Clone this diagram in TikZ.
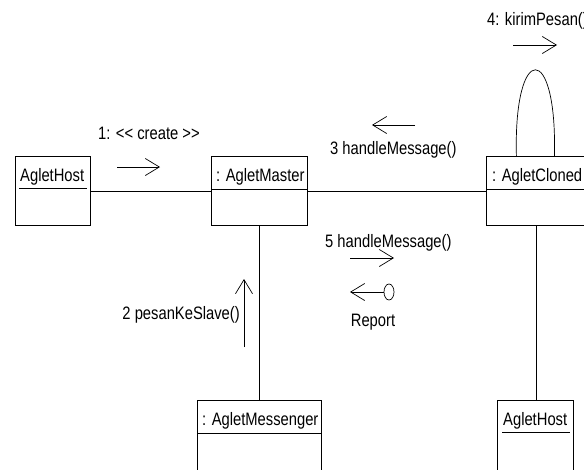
\documentclass[tikz,border=0pt]{standalone}
\usepackage{fontspec}
\setmainfont{Liberation Sans}[FakeStretch=0.82]
\usetikzlibrary{arrows.meta,shapes.geometric}
\begin{document}
\begin{tikzpicture}[x=1pt,y=-1pt,
  box/.style={draw, line width=0.8pt, rectangle, anchor=north west, inner sep=0pt},
  lbl/.style={inner sep=0pt, font=\fontsize{18}{21}\selectfont, anchor=base west},
  conn/.style={line width=0.8pt},
  msg/.style={line width=0.7pt, -{Straight Barb[length=14pt,width=17pt,line width=0.7pt]}}]
\useasboundingbox (0,0) rectangle (584,469);
% boxes
\node[box, minimum width=75pt, minimum height=69pt] (host1) at (15,156) {};
\node[box, minimum width=96pt, minimum height=69pt] (master) at (211,156) {};
\node[box, minimum width=100pt, minimum height=69pt] (cloned) at (486,156) {};
\node[box, minimum width=124pt, minimum height=80pt] (messenger) at (197,400) {};
\node[box, minimum width=76pt, minimum height=80pt] (host2) at (497,400) {};
% dividers
\draw[conn] (master.north west |- 0,189) -- (master.north east |- 0,189);
\draw[conn] (cloned.north west |- 0,189) -- (cloned.north east |- 0,189);
\draw[conn] (messenger.north west |- 0,433) -- (messenger.north east |- 0,433);
% titles
\node[lbl] (t1) at (20,181) {AgletHost};
\draw[line width=0.8pt] (19,188) -- (87,188);
\begin{scope}
\clip (master.north west) rectangle (master.south east);
\node[lbl] (t2) at (216,181) {: AgletMaster};
\end{scope}
\begin{scope}
\clip (cloned.north west) rectangle (cloned.south east);
\node[lbl] (t3) at (492,181) {: AgletCloned};
\end{scope}
\begin{scope}
\clip (messenger.north west) rectangle (messenger.south east);
\node[lbl] (t4) at (202,425) {: AgletMessenger};
\end{scope}
\node[lbl] (t5) at (503,425) {AgletHost};
\draw[line width=0.8pt] (502,432) -- (570,432);
% connectors
\draw[conn] (host1) -- (master);
\draw[conn] (master) -- (cloned);
\draw[conn] (master) -- (messenger);
\draw[conn] (cloned.south) -- (host2.north -| cloned.south);
\draw[line width=0.7pt] ([xshift=-20pt]cloned.north) .. controls ([xshift=-23pt,yshift=115pt]cloned.north) and ([xshift=21pt,yshift=115pt]cloned.north) .. ([xshift=18pt]cloned.north);
% messages
\coordinate (a1s) at (117,167); \coordinate (a1e) at (160,167);
\draw[msg] (a1s) -- (a1e);
\node[lbl] (m1) at (98,139) {1: {<}{<} create {>}{>}};
\coordinate (a3s) at (415,125); \coordinate (a3e) at (372,125);
\draw[msg] (a3s) -- (a3e);
\node[lbl] (m3) at (330,154) {3 handleMessage()};
\coordinate (a4s) at (513,45); \coordinate (a4e) at (557,45);
\draw[msg] (a4s) -- (a4e);
\node[lbl] (m4) at (487,25) {4: kirimPesan()};
\node[lbl] (m5) at (325,247) {5 handleMessage()};
\coordinate (a5s) at (350,258); \coordinate (a5e) at (394,258);
\draw[msg] (a5s) -- (a5e);
\node[draw, line width=0.7pt, ellipse, minimum width=10pt, minimum height=16pt, inner sep=0pt] (rc) at (389,292) {};
\coordinate (rt) at (350,292);
\draw[msg] (rc) -- (rt);
\node[lbl, anchor=base] (rep) at (373,326) {Report};
\coordinate (a2s) at (244,347); \coordinate (a2e) at (244,279);
\draw[msg] (a2s) -- (a2e);
\node[lbl, anchor=base east] (m2) at (240,319) {2 pesanKeSlave()};
\end{tikzpicture}
\end{document}
